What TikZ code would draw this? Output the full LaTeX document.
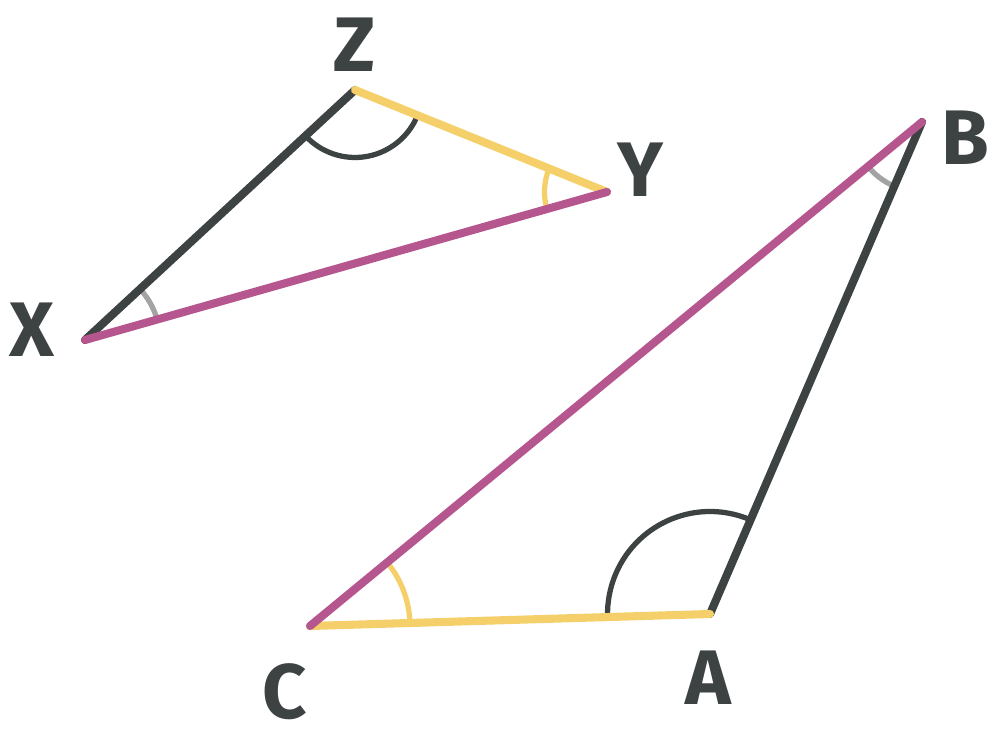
\documentclass[tikz,border=0pt]{standalone}
\usepackage{fontspec}
\setmainfont{Fira Sans}
\usetikzlibrary{angles}
\definecolor{dk}{HTML}{3D4242}
\definecolor{yl}{HTML}{F5D06A}
\definecolor{pu}{HTML}{B5568F}
\definecolor{lg}{HTML}{A3A3A3}
\begin{document}
\begin{tikzpicture}[x=0.02cm,y=0.02cm,line cap=round,
  side/.style={line width=4.6pt},
  ang/.style={draw,line width=3pt},
  lab/.style={text=dk,font=\fontsize{44}{48}\selectfont\bfseries}]
\useasboundingbox (0,0) rectangle (1000,742);
\coordinate (Z) at (355,652); \coordinate (Y) at (607,550); \coordinate (X) at (85,402);
\coordinate (B) at (922,620); \coordinate (A) at (710,128); \coordinate (C) at (310,116);
\pic[ang,dk,angle radius=1.35cm] {angle=X--Z--Y};
\pic[ang,yl,angle radius=1.25cm] {angle=Z--Y--X};
\pic[ang,lg,angle radius=1.5cm] {angle=Y--X--Z};
\pic[ang,lg,angle radius=1.4cm] {angle=C--B--A};
\pic[ang,dk,angle radius=2.05cm] {angle=B--A--C};
\pic[ang,yl,angle radius=2cm] {angle=A--C--B};
\draw[side,dk] (X) -- (Z);
\draw[side,yl] (Z) -- (Y);
\draw[side,pu] (X) -- (Y);
\draw[side,dk] (A) -- (B);
\draw[side,yl] (C) -- (A);
\draw[side,pu] (C) -- (B);
\node[lab] (lz) at (355,697) {Z};
\node[lab] (ly) at (640,572) {Y};
\node[lab] (lx) at (32,412) {X};
\node[lab] (lb) at (965,604) {B};
\node[lab] (la) at (708,64) {A};
\node[lab] (lc) at (285,50) {C};
\end{tikzpicture}
\end{document}
